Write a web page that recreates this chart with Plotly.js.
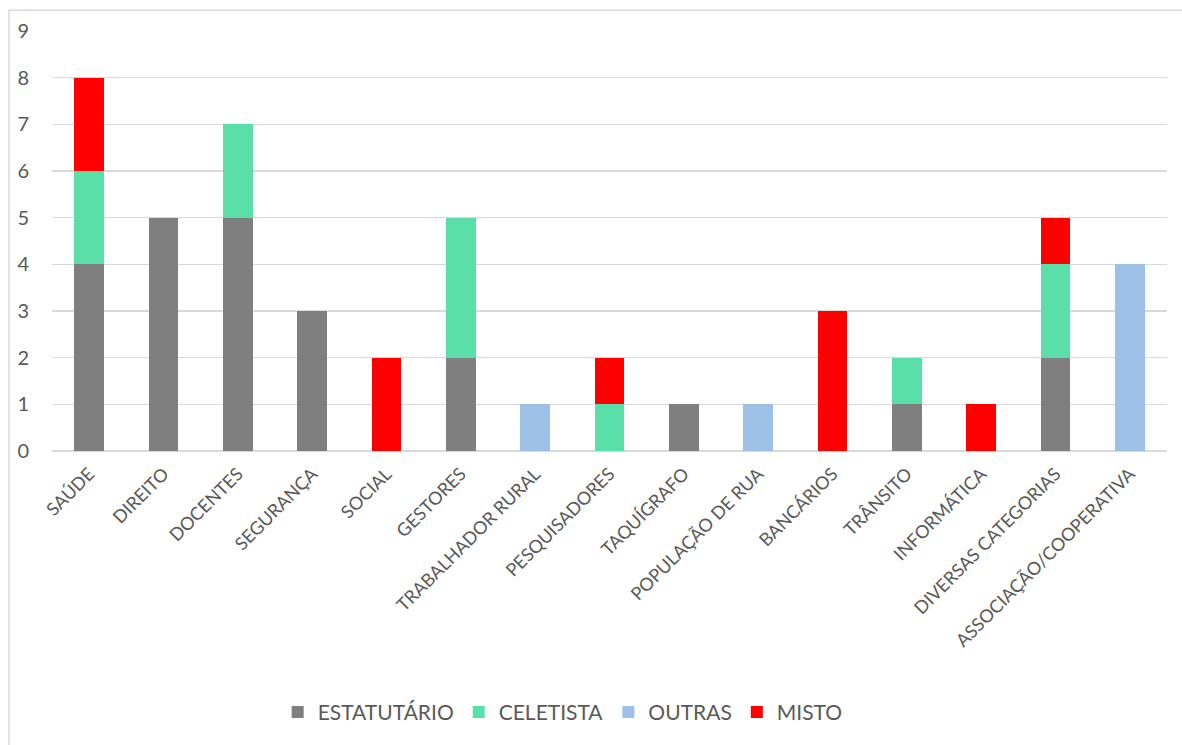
<!DOCTYPE html>
<html>
<head>
<meta charset="utf-8">
<script src="https://cdn.plot.ly/plotly-3.0.1.min.js"></script>
<style>html,body{margin:0;padding:0;background:#fff;}#chart{width:1182px;height:745px;}</style>
</head>
<body>
<div id="chart"></div>
<script>
const categories = ["SAÚDE","DIREITO","DOCENTES","SEGURANÇA","SOCIAL","GESTORES","TRABALHADOR RURAL","PESQUISADORES","TAQUÍGRAFO","POPULAÇÃO DE RUA","BANCÁRIOS","TRÂNSITO","INFORMÁTICA","DIVERSAS CATEGORIAS","ASSOCIAÇÃO/COOPERATIVA"];
const estatutario = [4,5,5,3,0,2,0,0,1,0,0,1,0,2,0];
const celetista   = [2,0,2,0,0,3,0,1,0,0,0,1,0,2,0];
const outras      = [0,0,0,0,0,0,1,0,0,1,0,0,0,0,4];
const misto       = [2,0,0,0,2,0,0,1,0,0,3,0,1,1,0];
const seriesNames = ["ESTATUTÁRIO","CELETISTA","OUTRAS","MISTO"];
const yTicks = [0,1,2,3,4,5,6,7,8,9];

const colors = ["#7f7f7f","#5adfa8","#9dc0e6","#ff0000"];
const seriesVals = [estatutario, celetista, outras, misto];
const font = "Lato, 'Open Sans', sans-serif";

const traces = seriesVals.map((v,i)=>({
  type:"bar", name:seriesNames[i], x:categories, y:v,
  marker:{color:colors[i], line:{width:0}},
  hoverinfo:"x+y+name"
}));

const layout = {
  width:1182, height:745,
  barmode:"stack", bargap:0.6,
  margin:{l:52, r:15, t:31, b:291},
  paper_bgcolor:"#fff", plot_bgcolor:"#fff",
  font:{family:font, color:"#595959"},
  xaxis:{type:"category", tickangle:-45, tickfont:{size:18, color:"#595959"}, showgrid:false, showline:false, ticks:"", zeroline:false, ticklabelstandoff:8},
  yaxis:{range:[0,9], tickvals:yTicks, ticktext:yTicks.map(String), tickfont:{size:20, color:"#595959"}, showgrid:true, gridcolor:"#d9d9d9", gridwidth:1.5, zeroline:true, zerolinecolor:"#d9d9d9", zerolinewidth:1.5, showline:false, ticks:"", ticklabelstandoff:22},
  showlegend:true,
  legend:{orientation:"h", x:0.458, xanchor:"center", y:-0.622, yanchor:"middle", font:{size:21, color:"#595959"}, itemwidth:30, tracegroupgap:0, traceorder:"normal"},
  shapes:[{type:"rect", xref:"paper", yref:"paper",
    x0:(9-52)/1115, x1:(1200-52)/1115, y0:(454-760)/423, y1:(454-10)/423,
    line:{color:"#d9d9d9", width:1.5}, fillcolor:"rgba(0,0,0,0)", layer:"below"}]
};

Plotly.newPlot("chart", traces, layout, {displayModeBar:false, staticPlot:true});
</script>
</body>
</html>
